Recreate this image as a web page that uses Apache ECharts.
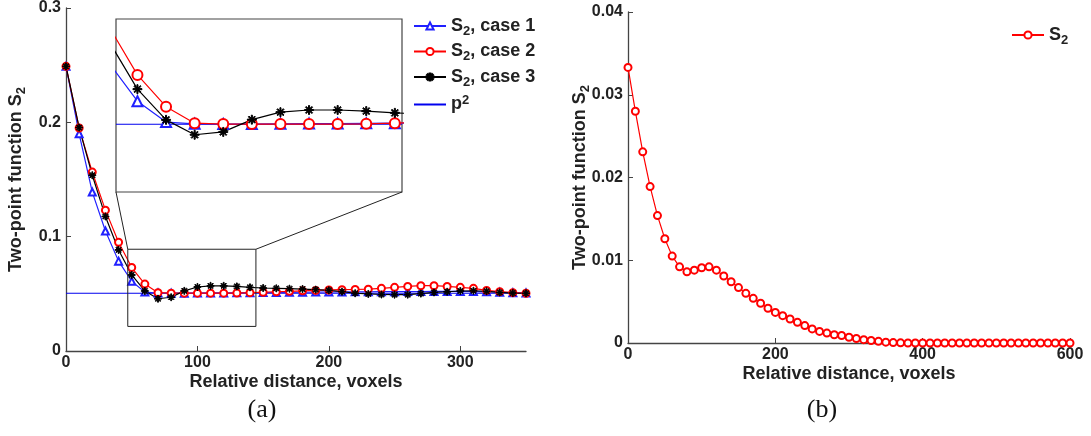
<!DOCTYPE html>
<html><head><meta charset="utf-8">
<script src="https://cdn.jsdelivr.net/npm/echarts@6/dist/echarts.min.js"></script>
<style>html,body{margin:0;padding:0;background:#fff}#c{width:1091px;height:436px}</style>
</head><body><div id="c"></div>
<script>
// ---------- data ----------
const distA = [0,10,20,30,40,50,60,70,80,90,100,110,120,130,140,150,160,170,180,190,200,210,220,230,240,250,260,270,280,290,300,310,320,330,340,350];
const case1 = [0.249,0.190,0.139,0.105,0.0786,0.0610,0.0515,0.0507,0.0506,0.0506,0.0507,0.0508,0.0508,0.0509,0.0510,0.0511,0.0512,0.0513,0.0514,0.0515,0.0516,0.0517,0.0518,0.0518,0.0519,0.0519,0.0520,0.0520,0.0521,0.0521,0.0521,0.0520,0.0518,0.0514,0.0510,0.0507];
const case2 = [0.249,0.195,0.1565,0.1232,0.0951,0.0730,0.0585,0.0510,0.0506,0.0506,0.0506,0.0506,0.0506,0.0507,0.0510,0.0514,0.0518,0.0522,0.0526,0.0530,0.0534,0.0536,0.0538,0.0541,0.0548,0.0557,0.0565,0.0571,0.0571,0.0565,0.0557,0.0548,0.0530,0.0519,0.0510,0.0505];
const case3 = [0.249,0.1954,0.1537,0.1177,0.0884,0.0665,0.0525,0.0457,0.0470,0.0526,0.0560,0.0570,0.0570,0.0565,0.0557,0.0551,0.0548,0.0545,0.0542,0.0537,0.0531,0.0519,0.0505,0.0499,0.0494,0.0493,0.0493,0.0502,0.0512,0.0518,0.0525,0.0527,0.0522,0.0512,0.0507,0.0505];
const p2Value = 0.0505;
const p2Range = [0,350];
const zoomBoxX = [47,144.5];
const zoomBoxY = [0.0215,0.089];
const insetX = [42.5,142.5];
const insetY = [0.0196,0.0985];

const distB = [0,10,20,30,40,50,60,70,80,90,100,110,120,130,140,150,160,170,180,190,200,210,220,230,240,250,260,270,280,290,300,310,320,330,340,350,360,370,380,390,400,410,420,430,440,450,460,470,480,490,500,510,520,530,540,550,560,570,580,590,600];
const s2b = [0.0333,0.0280,0.0231,0.0189,0.0154,0.0126,0.0105,0.0092,0.0086,0.0088,0.0091,0.0092,0.0088,0.0081,0.0074,0.0067,0.0060,0.0054,0.0048,0.0042,0.0037,0.0033,0.0029,0.0025,0.0021,0.0017,0.0014,0.0012,0.0010,0.0009,0.0007,0.00055,0.0004,0.0003,0.0002,0.0001,0.00005,0.00002,0,0,0,0,0,0,0,0,0,0,0,0,0,0,0,0,0,0,0,0,0,0,0];

// ---------- helpers ----------
const FONT = 'Liberation Sans';
const TXT = '#222';
const zip = (xs, ys) => xs.map((x,i)=>[x, ys[i]]);
const STAR = 'path://M-0.12,-1L0.12,-1L0.12,1L-0.12,1Z M-1,-0.12L1,-0.12L1,0.12L-1,0.12Z M-0.62,-0.79L0.79,0.62L0.62,0.79L-0.79,-0.62Z M0.62,-0.79L0.79,-0.62L-0.62,0.79L-0.79,0.62Z';
const richSub = {
  s:{fontSize:13,fontWeight:'bold',fontFamily:FONT,color:TXT,padding:[10,0,0,0]},
  p:{fontSize:13,fontWeight:'bold',fontFamily:FONT,color:TXT,padding:[0,0,9,0]}
};
const legendNames = {
  'c1':'S{s|2}, case 1','c2':'S{s|2}, case 2','c3':'S{s|2}, case 3','p2':'p{p|2}','b':'S{s|2}'
};
function axisCommon(){
  return {
    nameMoveOverlap:false,
    axisLine:{show:true,onZero:false,lineStyle:{color:'#444',width:1.3}},
    axisTick:{show:true,inside:true,length:5,lineStyle:{color:'#444'}},
    splitLine:{show:false},
    nameTextStyle:{fontFamily:FONT,fontWeight:'bold',fontSize:18,color:TXT,rich:{
      s:{fontSize:13,fontWeight:'bold',fontFamily:FONT,color:TXT,padding:[10,0,0,0]}}}
  };
}
const labelStyle = {fontFamily:FONT,fontWeight:'bold',fontSize:16,color:TXT,
    formatter:v=>String(+(+v).toFixed(3))};
function xAx(grid,min,max,interval,showMax){
  return Object.assign({type:'value',gridIndex:grid,min,max,interval,
    name:'Relative distance, voxels',nameLocation:'middle',nameGap:22},
    axisCommon(),{axisLabel:Object.assign({},labelStyle,{margin:4,showMaxLabel:showMax})});
}
function yAx(grid,min,max,interval,gap){
  return Object.assign({type:'value',gridIndex:grid,min,max,interval,
    name:'Two-point function S{s|2}',nameLocation:'middle',nameGap:gap},
    axisCommon(),{axisLabel:Object.assign({},labelStyle,{margin:5})});
}
function mainLine(name,data,color,symbol,size,grid){
  return {type:'line',name,xAxisIndex:grid,yAxisIndex:grid,data,
    symbol,symbolSize:size,showSymbol:true,
    lineStyle:{color,width:1.2},itemStyle:{color,borderColor:color,borderWidth:1},
    emphasis:{disabled:true},animation:false,clip:true,z:3};
}
const legendText = {fontFamily:FONT,fontWeight:'bold',fontSize:18,color:TXT,rich:richSub};

const chart = echarts.init(document.getElementById('c'),null,{renderer:'canvas'});
const option = {
  animation:false,
  grid:[
    {left:66,top:6,width:460,height:345},
    {left:628,top:12,width:442,height:331},
    {left:116,top:19,width:286,height:173,show:true,borderColor:'#444',borderWidth:1.2,backgroundColor:'#fff',z:1}
  ],
  xAxis:[
    xAx(0,0,350,100,false),
    xAx(1,0,600,200,true),
    {type:'value',gridIndex:2,min:insetX[0],max:insetX[1],show:false}
  ],
  yAxis:[
    yAx(0,0,0.3,0.1,38),
    yAx(1,0,0.04,0.01,36),
    {type:'value',gridIndex:2,min:insetY[0],max:insetY[1],show:false}
  ],
  legend:[
    {data:['c1','c2','c3',{name:'p2',itemStyle:{opacity:0}}],orient:'vertical',left:408,top:12,itemGap:5,itemWidth:32,itemHeight:9,
     formatter:n=>legendNames[n],textStyle:legendText},
    {data:['b'],orient:'vertical',left:1006,top:21,itemWidth:32,itemHeight:9,
     formatter:n=>legendNames[n],textStyle:legendText}
  ],
  series:[
    mainLine('c1',zip(distA,case1),'#2020ff','emptyTriangle',7,0),
    mainLine('c2',zip(distA,case2),'#ff0000','emptyCircle',7,0),
    mainLine('c3',zip(distA,case3),'#000000',STAR,7,0),
    {type:'line',name:'p2',xAxisIndex:0,yAxisIndex:0,data:p2Range.map(x=>[x,p2Value]),symbol:'none',
     lineStyle:{color:'#0000ee',width:1.2},itemStyle:{color:'#0000ee'},z:2},
    Object.assign(mainLine('c1',zip(distA,case1),'#2020ff','emptyTriangle',10,2),{z:4}),
    Object.assign(mainLine('c2',zip(distA,case2),'#ff0000','emptyCircle',10,2),{z:4}),
    Object.assign(mainLine('c3',zip(distA,case3),'#000000',STAR,9,2),{z:4}),
    {type:'line',name:'p2',xAxisIndex:2,yAxisIndex:2,data:[[insetX[0],p2Value],[insetX[1],p2Value]],symbol:'none',
     lineStyle:{color:'#0000ee',width:1.2},itemStyle:{color:'#0000ee'},z:3},
    mainLine('b',zip(distB,s2b),'#ff0000','emptyCircle',7,1),
    {type:'line',name:'box',xAxisIndex:0,yAxisIndex:0,symbol:'none',silent:true,
     data:[[zoomBoxX[0],zoomBoxY[0]],[zoomBoxX[1],zoomBoxY[0]],[zoomBoxX[1],zoomBoxY[1]],[zoomBoxX[0],zoomBoxY[1]],[zoomBoxX[0],zoomBoxY[0]]],
     lineStyle:{color:'#222',width:1},z:5}
  ]
};
chart.setOption(option);

// connector lines from zoom box to inset, computed via the library's scales
const bTL = chart.convertToPixel({gridIndex:0},[zoomBoxX[0],zoomBoxY[1]]);
const bTR = chart.convertToPixel({gridIndex:0},[zoomBoxX[1],zoomBoxY[1]]);
const iBL = chart.convertToPixel({gridIndex:2},[insetX[0],insetY[0]]);
const iBR = chart.convertToPixel({gridIndex:2},[insetX[1],insetY[0]]);
chart.setOption({graphic:[
  {type:'line',shape:{x1:bTL[0],y1:bTL[1],x2:iBL[0],y2:iBL[1]},style:{stroke:'#222',lineWidth:1},z:10},
  {type:'line',shape:{x1:bTR[0],y1:bTR[1],x2:iBR[0],y2:iBR[1]},style:{stroke:'#222',lineWidth:1},z:10},
  {type:'text',x:262,y:410,style:{text:'(a)',font:'26px "Liberation Serif"',fill:'#111',textAlign:'center',textVerticalAlign:'middle'}},
  {type:'text',x:822,y:410,style:{text:'(b)',font:'26px "Liberation Serif"',fill:'#111',textAlign:'center',textVerticalAlign:'middle'}}
]});
</script></body></html>
